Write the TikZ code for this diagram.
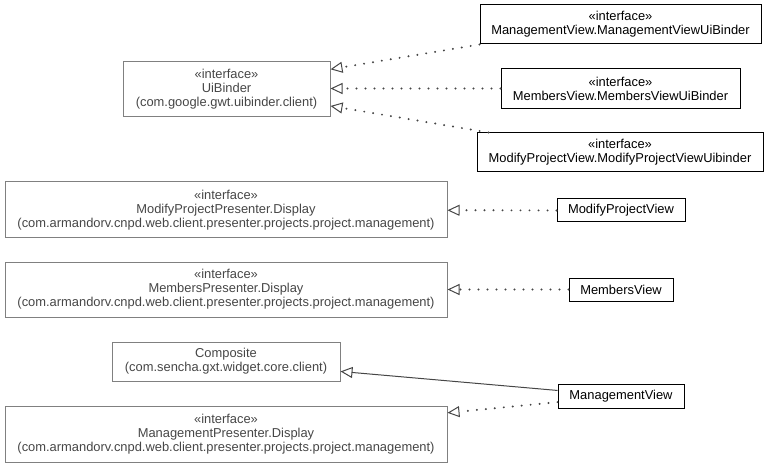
\documentclass[tikz,border=0pt]{standalone}
\usepackage{fontspec}
\setmainfont{Liberation Sans}
\usetikzlibrary{arrows.meta}

\definecolor{boxgray}{RGB}{128,128,128}
\definecolor{textgray}{RGB}{70,70,70}
\definecolor{dotgray}{RGB}{70,70,70}

\tikzset{
  extbox/.style={draw=boxgray, line width=1pt, text=textgray, align=center, inner sep=0pt,
    font=\fontsize{12.9}{14}\selectfont},
  ownbox/.style={draw=black, line width=1pt, text=black, align=center, inner sep=0pt,
    font=\fontsize{12.9}{14}\selectfont},
  realize/.style={draw=dotgray, line width=2.2pt, line cap=round, dash pattern=on 0pt off 9pt,
    -{Triangle[open, length=12pt, width=11pt, line width=1pt]}},
  extend/.style={draw=dotgray, line width=1pt,
    -{Triangle[open, length=12pt, width=11pt, line width=1pt]}}
}

\begin{document}
\begin{tikzpicture}[x=1pt, y=-1pt]

    \useasboundingbox (0,0) rectangle (771,465);

    % these are the types we depend on
    \node[extbox, minimum width=207pt, minimum height=55pt] (uib) at (226.5,89.5)
        {«interface»\\UiBinder\\(com.google.gwt.uibinder.client)};
    \node[extbox, minimum width=442pt, minimum height=56pt] (mpd) at (226,210)
        {«interface»\\ModifyProjectPresenter.Display\\(com.armandorv.cnpd.web.client.presenter.projects.project.management)};
    \node[extbox, minimum width=442pt, minimum height=55pt] (mbd) at (226,289.5)
        {«interface»\\MembersPresenter.Display\\(com.armandorv.cnpd.web.client.presenter.projects.project.management)};
    \node[extbox, minimum width=228pt, minimum height=39pt] (comp) at (226,361.5)
        {Composite\\(com.sencha.gxt.widget.core.client)};
    \node[extbox, minimum width=442pt, minimum height=56pt] (mgd) at (226,434)
        {«interface»\\ManagementPresenter.Display\\(com.armandorv.cnpd.web.client.presenter.projects.project.management)};

    % these are the types of the package
    \node[ownbox, minimum width=281pt, minimum height=39pt] (mgvub) at (620.5,24.5)
        {«interface»\\ManagementView.ManagementViewUiBinder};
    \node[ownbox, minimum width=239pt, minimum height=40pt] (mbvub) at (620.5,88.5)
        {«interface»\\MembersView.MembersViewUiBinder};
    \node[ownbox, minimum width=286pt, minimum height=39pt] (mpvub) at (620,152.5)
        {«interface»\\ModifyProjectView.ModifyProjectViewUibinder};
    \node[ownbox, minimum width=128pt, minimum height=23pt] (mpv) at (621,210.5) {ModifyProjectView};
    \node[ownbox, minimum width=104pt, minimum height=23pt] (mbv) at (621,289.5) {MembersView};
    \node[ownbox, minimum width=126pt, minimum height=24pt] (mgv) at (621,396) {ManagementView};

    \draw[realize] (mgvub.south west) -- (uib.11);
    \draw[realize] (mbvub.west) -- (uib.east |- mbvub.west);
    \draw[realize] ([xshift=12pt]mpvub.north west) -- (uib.-9);
    \draw[realize] (mpv) -- (mpd);
    \draw[realize] (mbv) -- (mbd);
    \draw[extend] (mgv) -- (comp);
    \draw[realize] (mgv) -- (mgd);

\end{tikzpicture}
\end{document}
